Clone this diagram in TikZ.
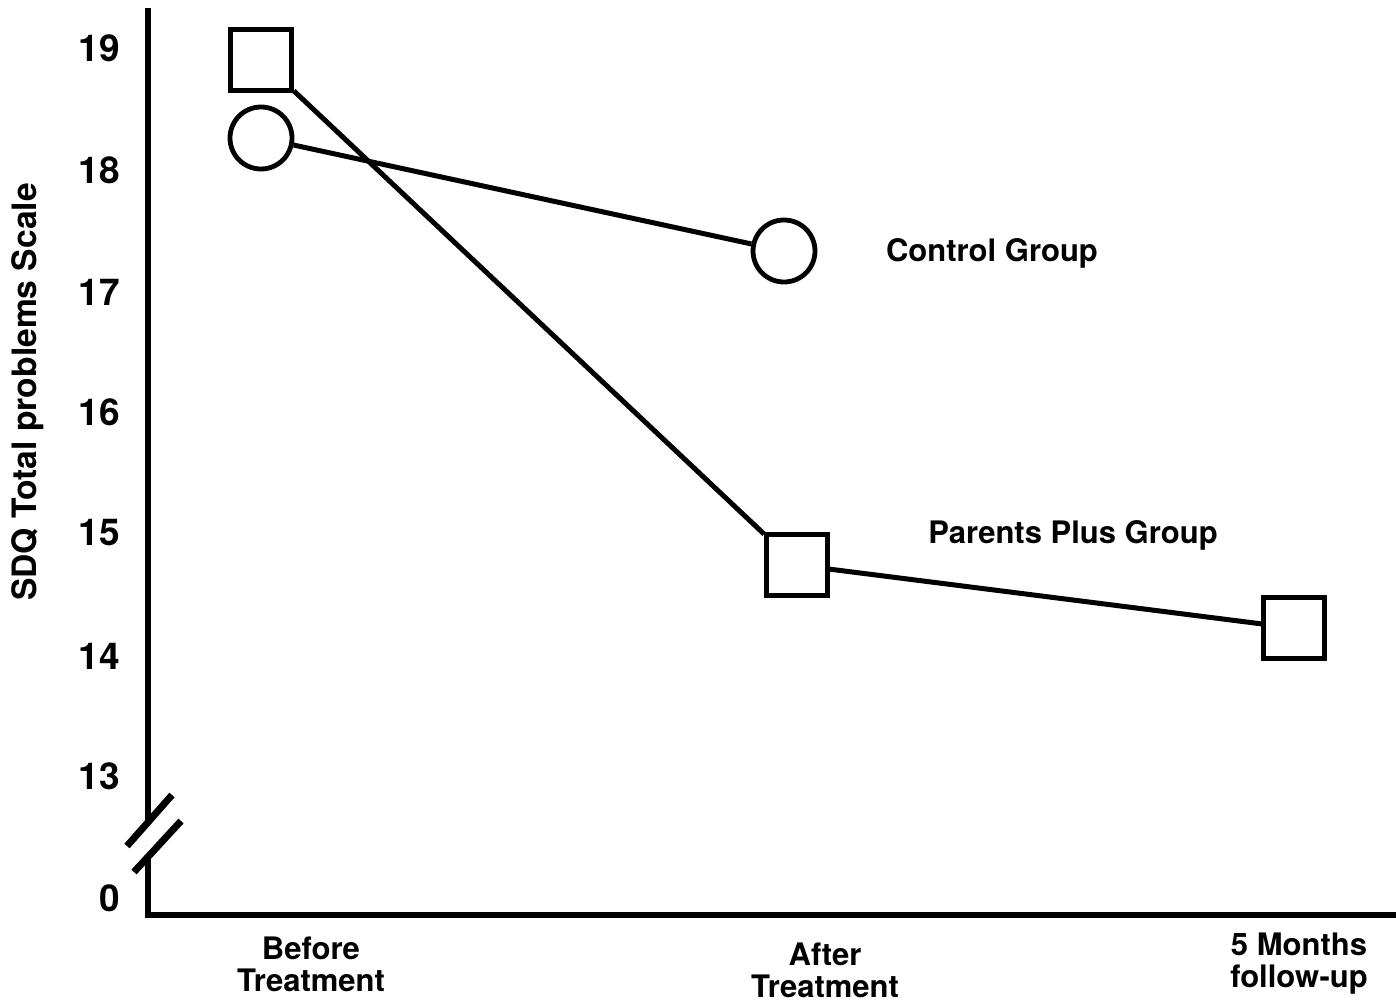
\documentclass[tikz,border=0pt]{standalone}
\usepackage{fontspec}
\setmainfont{TeX Gyre Heros}
\begin{document}
\begin{tikzpicture}[x=0.5pt,y=-0.5pt,
  sq/.style={draw,line width=2.4pt,fill=white,minimum size=30.5pt,inner sep=0pt},
  circ/.style={draw,circle,line width=2.4pt,fill=white,minimum size=31pt,inner sep=0pt},
  ticklab/.style={anchor=east,inner sep=0pt,font=\fontsize{18.5}{20}\selectfont\bfseries},
  lab/.style={font=\fontsize{15.5}{16}\selectfont\bfseries,align=center},
  axis/.style={line width=3pt},
  series/.style={line width=2.5pt}]
\useasboundingbox (0,0) rectangle (1396,1001);
% axes
\coordinate (ytop) at (148,8);
\coordinate (ybrkA) at (148,822);
\coordinate (ybrkB) at (148,857);
\coordinate (orig) at (148,915);
\coordinate (xend) at (1396,915);
\draw [axis] (ytop)--(ybrkA);
\draw [axis,line join=miter] (ybrkB)--(orig)--(xend);
\draw [line width=3.5pt] (127,846)--(172,795);
\draw [line width=3.5pt] (134,872)--(181,821);
\node [ticklab] (t19) at (120,48) {19};
\node [ticklab] (t18) at (120,170) {18};
\node [ticklab] (t17) at (120,292) {17};
\node [ticklab] (t16) at (120,412) {16};
\node [ticklab] (t15) at (120,533) {15};
\node [ticklab] (t14) at (120,656) {14};
\node [ticklab] (t13) at (120,776) {13};
\node [ticklab] (t0) at (120,898) {0};
\node [rotate=90,font=\fontsize{16.8}{17}\selectfont\bfseries] (ylab) at (28,392) {SDQ Total problems Scale};
\node [lab] (xbefore) at (311,964) {Before\\Treatment};
\node [lab] (xafter) at (825,970) {After\\Treatment};
\node [lab] (xfollow) at (1299,964) {5 Months\\follow-up};
% data
\node [sq] (ppA) at (261,60) {};
\node [sq] (ppB) at (797,565) {};
\node [sq] (ppC) at (1294,628) {};
\node [circ] (cgA) at (261,138) {};
\node [circ] (cgB) at (784,251) {};
\draw [series] (ppA)--(ppB)--(ppC);
\draw [series] (cgA)--(cgB);
\node [lab] (cglab) at (992,253) {Control Group};
\node [lab] (pplab) at (1073,535) {Parents Plus Group};
\end{tikzpicture}
\end{document}
